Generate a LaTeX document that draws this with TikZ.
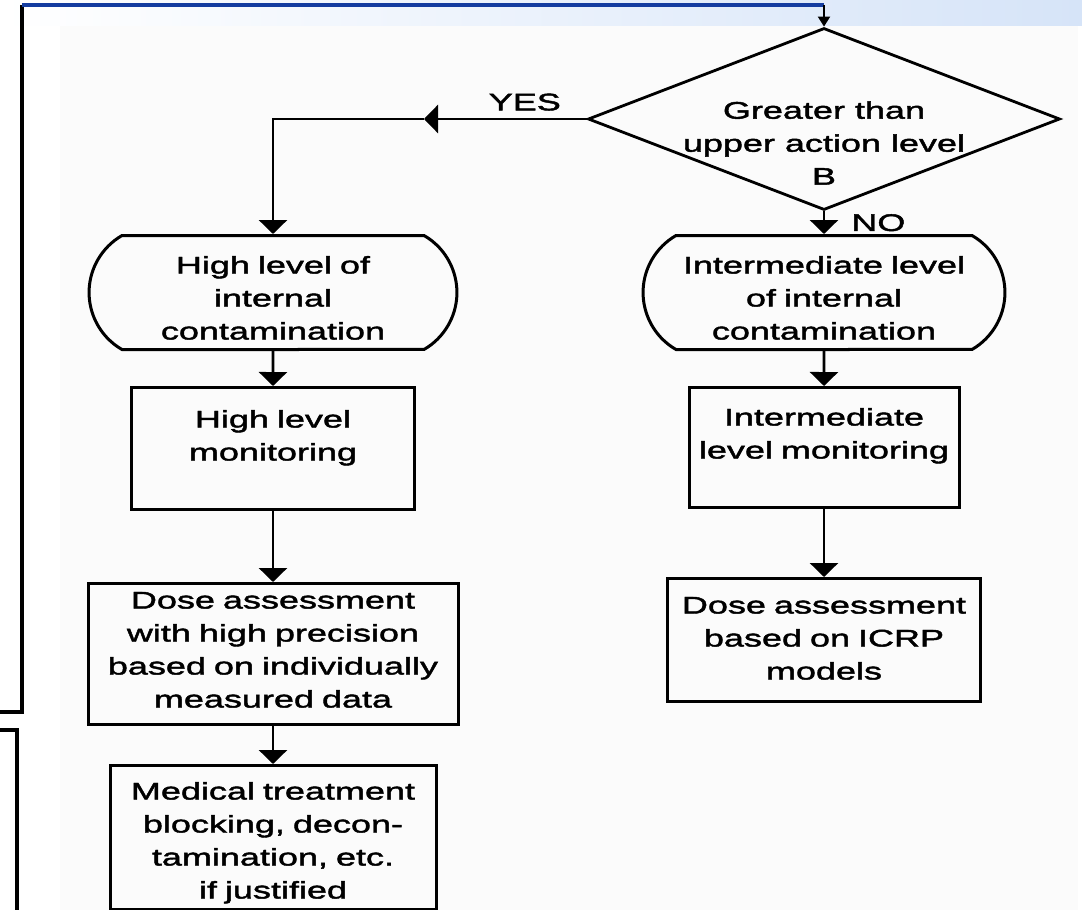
\documentclass[tikz,border=0pt]{standalone}
\usepackage{fontspec}
\usepackage{xcolor}
\usepackage{tikz}
\usetikzlibrary{arrows.meta,shapes.geometric,shapes.misc}
\newfontfamily\flowfont[FakeStretch=1.5,FakeBold=1.8]{Liberation Sans}
\definecolor{frameblue}{RGB}{20,60,160}
\definecolor{bandblue}{RGB}{214,228,248}
\definecolor{scanwhite}{RGB}{251,251,251}

\begin{document}
\begin{tikzpicture}[x=1pt, y=-1pt,
  every node/.style={
    font=\flowfont\fontsize{24}{33}\selectfont,
    inner sep=0pt,
    %draw,
  },
  box/.style={rectangle, draw, line width=3pt, anchor=north, align=center},
  oval/.style={rounded rectangle, rounded rectangle arc length=120, draw,
    line width=3pt, anchor=north, align=center},
  decision/.style={diamond, draw, line width=2.8pt, minimum width=472pt,
    minimum height=182pt},
  flow/.style={line width=2.8pt, -{Triangle[width=28pt,length=14pt]}},
  frameline/.style={line width=3.5pt},
  blueline/.style={line width=3.5pt, draw=frameblue},
  ]

  \useasboundingbox (0,0) rectangle (1082,910);
  \fill[white] (0,0) rectangle (1082,910);
  \fill[scanwhite] (60,25) rectangle (1078,910);
  \shade[left color=white, right color=bandblue] (0,0) rectangle (1082,25);

  \node[decision, label={[yshift=-24pt, align=center]center:Greater than\\upper action level\\B}] (n0) at (824,119) {};

  \node[oval, text width=302pt, text height=38pt, text depth=76pt] (n1) at (273,234) {High level of\\internal\\contamination};
  \node[oval, text width=296pt, text height=38pt, text depth=76pt] (n2) at (824,234) {Intermediate level\\of internal\\contamination};

  \node[box, text width=283pt, text height=40pt, text depth=82pt] (n3) at (273,386) {High level\\monitoring};
  \node[box, text width=270pt, text height=38pt, text depth=82pt] (n4) at (824,386) {Intermediate\\level monitoring};

  \node[box, text width=370pt, text height=25pt, text depth=116pt] (n5) at (273,582) {Dose assessment\\with high precision\\based on individually\\measured data};
  \node[box, text width=313pt, text height=35pt, text depth=88pt] (n6) at (824,577) {Dose assessment\\based on ICRP\\models};

  \node[box, text width=326pt, text height=34pt, text depth=110pt] (n7) at (273,764) {Medical treatment\\blocking, decon-\\tamination, etc.\\if justified};

  \coordinate (yesTip) at (424,119);
  \coordinate (frameLow) at (0,712);
  \coordinate (frameTop) at (22,5);
  \coordinate (frameTurn) at (824,5);
  \coordinate (brA) at (0,730);
  \coordinate (brB) at (17,910);

  \draw[frameline] (frameLow) -| (frameTop);
  \draw[blueline] (frameTop) -- (frameTurn);
  \draw[line width=2pt, -{Triangle[width=12pt,length=10pt]}] (frameTurn) -- (n0.north);
  \draw[frameline] (brA) -| (brB);

  \draw[flow] (n0.west) -- node[pos=0.38, above=7pt] (yes) {YES} (yesTip);
  \draw[flow] (yesTip) -| (n1.north);
  \draw[flow] (n0.south) -- node[right=26pt] (no) {NO} (n2.north);

  \draw[flow] (n1) -- (n3);
  \draw[flow] (n3) -- (n5);
  \draw[flow] (n5) -- (n7);
  \draw[flow] (n2) -- (n4);
  \draw[flow] (n4) -- (n6);

\end{tikzpicture}
\end{document}
